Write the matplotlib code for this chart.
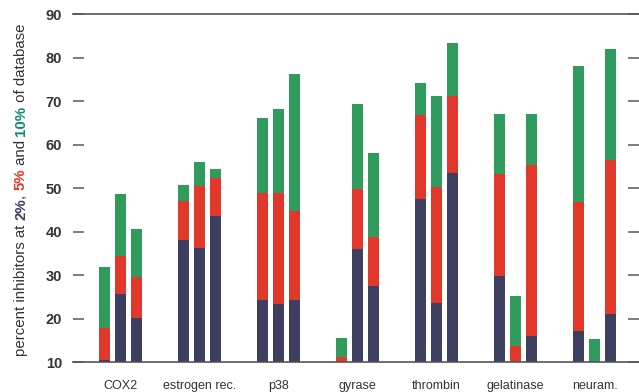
import numpy as np
import matplotlib
matplotlib.use("Agg")
import matplotlib.pyplot as plt

plt.rcParams['font.family'] = ['Liberation Sans', 'DejaVu Sans']

# cumulative percent of inhibitors found at 2%, 5% and 10% of the database
# (3 screens per target; 10 means nothing above the axis floor)
targets = ["COX2", "estrogen rec.", "p38", "gyrase", "thrombin", "gelatinase", "neuram."]
at_2pct = [10.5, 25.6, 20.1, 38.0, 36.2, 43.5, 24.2, 23.3, 24.2,
           10.0, 35.9, 27.4, 47.5, 23.6, 53.4, 29.9, 10.0, 15.9,
           17.2, 10.0, 21.1]
at_5pct = [17.9, 34.3, 29.5, 47.1, 50.6, 52.4, 48.8, 48.8, 44.7,
           11.2, 49.7, 38.7, 66.8, 50.3, 71.2, 53.2, 13.7, 55.4,
           46.8, 10.0, 56.5]
at_10pct = [31.8, 48.7, 40.5, 50.8, 56.1, 54.4, 66.1, 68.3, 76.2,
            15.5, 69.3, 58.2, 74.3, 71.2, 83.3, 67.0, 25.3, 67.0,
            78.0, 15.3, 82.0]

c_blue = '#3c3f5f'
c_red = '#e2382b'
c_green = '#2f9c5e'
c_teal = '#14877a'
c_text = '#333333'

fig = plt.figure(figsize=(6.39, 3.92), dpi=100)
ax = fig.add_axes([73 / 639, 1 - 362 / 392, 1 - 73 / 639, (362 - 14.3) / 392])

floor = 10
offsets = [-0.2025, 0.0, 0.2025]
xs = np.array([g + offsets[i % 3] for g in range(len(targets)) for i in range(3)])
width = 0.14
for vals, col in [(at_10pct, c_green), (at_5pct, c_red), (at_2pct, c_blue)]:
    h = np.array(vals) - floor
    ax.bar(xs, h, width=width, bottom=floor, color=col, linewidth=0, zorder=2)

ax.set_xlim(-0.6, 6.563)
ax.set_ylim(10, 90)
ax.set_yticks(range(10, 91, 10))
ax.set_xticks(range(len(targets)))
ax.set_xticklabels(targets, fontsize=9, color=c_text)
ax.tick_params(axis='x', length=0, pad=13)
ax.tick_params(axis='y', direction='in', left=True, right=True, length=8,
               width=1.2, color='#666666', pad=8, labelsize=10.5, labelcolor=c_text)
for lab in ax.get_yticklabels():
    lab.set_fontweight('bold')

ax.spines['left'].set_visible(False)
ax.spines['right'].set_visible(False)
for s in ['top', 'bottom']:
    ax.spines[s].set_color('#555555')
    ax.spines[s].set_linewidth(1.2)

# multi-coloured y label, built piece by piece from bottom to top
pieces = [("percent inhibitors at ", c_text, 'normal'),
          ("2%", c_blue, 'bold'),
          (", ", c_text, 'normal'),
          ("5%", c_red, 'bold'),
          (" and ", c_text, 'normal'),
          ("10%", c_teal, 'bold'),
          (" of database", c_text, 'normal')]
fs = 10.8
fig.canvas.draw()
renderer = fig.canvas.get_renderer()


def advance(txt, wt):
    # width including leading/trailing spaces, measured between two bars
    a = fig.text(0, 0, "|" + txt + "|", fontsize=fs, fontweight=wt)
    b = fig.text(0, 0, "||", fontsize=fs, fontweight=wt)
    w = a.get_window_extent(renderer).width - b.get_window_extent(renderer).width
    a.remove()
    b.remove()
    return w


y0 = 1 - 356 / 392
for txt, col, wt in pieces:
    fig.text(21 / 639, y0, txt, rotation=90, rotation_mode='anchor',
             ha='left', va='center', fontsize=fs, color=col, fontweight=wt)
    y0 += advance(txt, wt) / fig.bbox.height

fig.savefig("out.png", dpi=100)
